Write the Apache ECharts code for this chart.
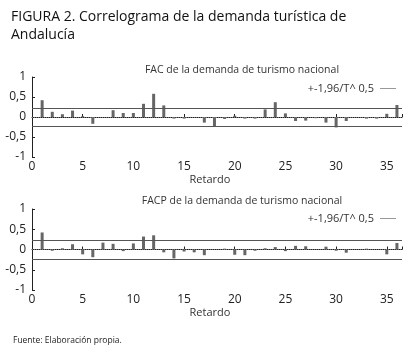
<!DOCTYPE html>
<html>
<head>
<meta charset="utf-8">
<script src="https://cdn.jsdelivr.net/npm/echarts@6/dist/echarts.min.js"></script>
<style>
  body { margin: 0; background: #fff; }
  #chart { width: 411px; height: 352px; }
</style>
</head>
<body>
<div id="chart"></div>
<script>
const lags = [1, 2, 3, 4, 5, 6, 7, 8, 9, 10, 11, 12, 13, 14, 15, 16, 17, 18,
  19, 20, 21, 22, 23, 24, 25, 26, 27, 28, 29, 30, 31, 32, 33, 34, 35, 36];

// FAC
const facValues = [0.42, 0.13, 0.07, 0.16, 0.02, -0.17, 0.0, 0.17, 0.1, 0.1, 0.33, 0.58,
  0.29, -0.04, -0.04, 0.0, -0.14, -0.24, -0.05, 0.03, -0.04, -0.04, 0.19, 0.37,
  0.09, -0.1, -0.09, -0.03, -0.14, -0.26, -0.1, 0.0, -0.04, -0.04, 0.08, 0.3];

// FACP
const facpValues = [0.42, -0.03, 0.03, 0.13, -0.12, -0.19, 0.17, 0.14, -0.04, 0.15, 0.32, 0.35,
  -0.07, -0.22, -0.05, -0.07, -0.14, 0.0, 0.02, -0.13, -0.14, -0.03, 0.03, 0.06,
  -0.04, 0.09, 0.08, 0.0, 0.07, -0.03, -0.08, 0.0, 0.02, 0.0, -0.12, 0.16];

const bound = 0.225; // +-1,96/T^0,5
const xTicks = [0, 5, 10, 15, 20, 25, 30, 35];
const yTicks = [-1, -0.5, 0, 0.5, 1];
const boundName = "+-1,96/T^ 0,5";

const font = "Open Sans";
const barColor = "#666";

function makeXAxis(gridIndex) {
  return {
    gridIndex,
    type: "value",
    min: 0,
    max: 36.5,
    interval: 5,
    name: "Retardo",
    nameLocation: "middle",
    nameGap: 17,
    nameTextStyle: { fontFamily: font, fontSize: 11, color: "#333", padding: [0, 0, 0, -14] },
    axisLine: { lineStyle: { color: "#222" } },
    axisTick: { inside: true, length: 3, lineStyle: { color: "#222" } },
    splitLine: { show: false },
    axisLabel: {
      margin: 4,
      fontFamily: font,
      fontSize: 12,
      color: "#222",
      formatter: v => (xTicks.includes(v) ? String(v) : ""),
    },
  };
}

function makeYAxis(gridIndex) {
  return {
    gridIndex,
    type: "value",
    min: -1,
    max: 1,
    interval: 0.5,
    axisLine: { show: true, lineStyle: { color: "#222" } },
    axisTick: { show: true, inside: true, length: 3, lineStyle: { color: "#222" } },
    splitLine: { show: false },
    axisLabel: {
      margin: 6,
      fontFamily: font,
      fontSize: 12,
      color: "#222",
      formatter: v => (yTicks.includes(v) ? String(v).replace(".", ",") : ""),
    },
  };
}

function barSeries(idx, values) {
  return {
    type: "bar",
    xAxisIndex: idx,
    yAxisIndex: idx,
    barWidth: 3,
    itemStyle: { color: barColor },
    data: lags.map((l, i) => [l, values[i]]),
    markLine: {
      silent: true,
      symbol: "none",
      label: { show: false },
      lineStyle: { color: "#777", type: "dotted", width: 1 },
      data: [{ yAxis: 0 }],
    },
  };
}

function boundSeries(idx) {
  return {
    name: boundName,
    type: "line",
    xAxisIndex: idx,
    yAxisIndex: idx,
    data: [],
    color: "#999",
    markLine: {
      silent: true,
      symbol: "none",
      label: { show: false },
      lineStyle: { color: "#555", type: "solid", width: 1 },
      data: [{ yAxis: bound }, { yAxis: -bound }],
    },
  };
}

function makeLegend(top) {
  return {
    right: 10,
    top,
    align: "right",
    icon: "rect",
    itemWidth: 16,
    itemHeight: 1,
    itemGap: 0,
    data: [boundName],
    textStyle: { fontFamily: font, fontSize: 11, color: "#333", padding: [0, 1, 0, 0] },
  };
}

const chart = echarts.init(document.getElementById("chart"));
chart.setOption({
  animation: false,
  backgroundColor: "#fff",
  title: [
    {
      text: "FIGURA 2. Correlograma de la demanda turística de\nAndalucía",
      left: 6,
      top: 3,
      textStyle: { fontFamily: font, fontSize: 14, fontWeight: "normal", color: "#111", lineHeight: 18 },
    },
    {
      text: "FAC de la demanda de turismo nacional",
      left: 237,
      top: 60,
      textAlign: "center",
      textStyle: { fontFamily: font, fontSize: 10.5, fontWeight: "normal", color: "#333" },
    },
    {
      text: "FACP de la demanda de turismo nacional",
      left: 237,
      top: 191,
      textAlign: "center",
      textStyle: { fontFamily: font, fontSize: 10.5, fontWeight: "normal", color: "#333" },
    },
    {
      text: "Fuente: Elaboración propia.",
      left: 8,
      top: 331,
      textStyle: { fontFamily: font, fontSize: 8.5, fontWeight: "normal", color: "#222" },
    },
  ],
  legend: [makeLegend(78), makeLegend(208)],
  grid: [
    { left: 32, right: 9, top: 77, height: 80 },
    { left: 32, right: 9, top: 209, height: 81 },
  ],
  xAxis: [makeXAxis(0), makeXAxis(1)],
  yAxis: [makeYAxis(0), makeYAxis(1)],
  series: [
    barSeries(0, facValues),
    boundSeries(0),
    barSeries(1, facpValues),
    boundSeries(1),
  ],
});
</script>
</body>
</html>
